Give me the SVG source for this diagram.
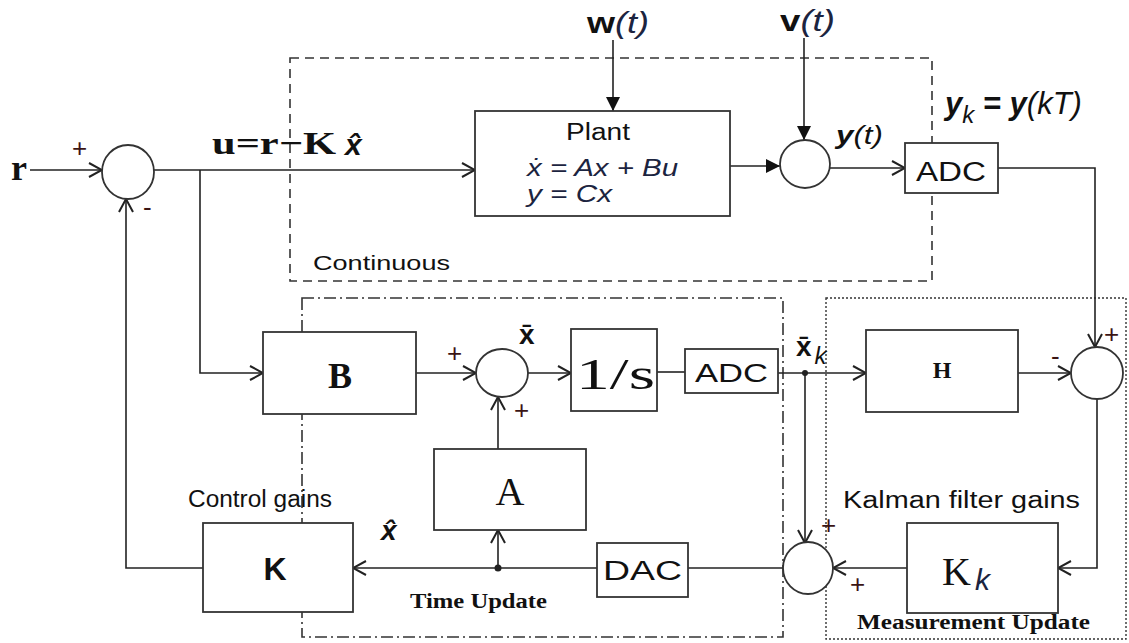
<svg xmlns="http://www.w3.org/2000/svg" width="1129" height="643" viewBox="0 0 1129 643">
<defs>
<marker id="open" markerUnits="userSpaceOnUse" markerWidth="16" markerHeight="16" viewBox="0 0 16 16" refX="15" refY="8" orient="auto">
<path d="M2,1 L15,8 L2,15" fill="none" stroke="#222" stroke-width="2"/>
</marker>
<marker id="fill" markerUnits="userSpaceOnUse" markerWidth="16" markerHeight="16" viewBox="0 0 16 16" refX="15" refY="8" orient="auto">
<path d="M1,1 L15,8 L1,15 Z" fill="#111"/>
</marker>
<style>
.box{fill:#fff;stroke:#333;stroke-width:1.8}
.sum{fill:#fff;stroke:#333;stroke-width:1.8}
.ln{fill:none;stroke:#222;stroke-width:1.6}
.sans{font-family:"Liberation Sans",Arial,sans-serif;fill:#111}
.serif{font-family:"Liberation Serif","Times New Roman",serif;fill:#111}
.it{font-style:italic;fill:#1c2440}
.sign{font-family:"Liberation Sans",Arial,sans-serif;font-size:26px;fill:#3a1414}
</style>
</defs>
<rect width="1129" height="643" fill="#fff"/>

<g id="regions" fill="none">
<rect x="290" y="58" width="642" height="223" stroke="#333" stroke-width="1.6" stroke-dasharray="9,6"/>
<rect x="302" y="298" width="481" height="339" stroke="#333" stroke-width="1.6" stroke-dasharray="12,4,2,4"/>
<rect x="826" y="298" width="300" height="341" stroke="#333" stroke-width="1.4" stroke-dasharray="2,2"/>
<text class="sans" x="313" y="270" font-size="21" textLength="137" lengthAdjust="spacingAndGlyphs">Continuous</text>
<text class="serif" x="410" y="608" font-size="20" font-weight="bold" textLength="137" lengthAdjust="spacingAndGlyphs">Time Update</text>
<text class="serif" x="857" y="629" font-size="20" font-weight="bold" textLength="233" lengthAdjust="spacingAndGlyphs">Measurement Update</text>
</g>

<g id="connectors">
<path class="ln" d="M30,170 H102" marker-end="url(#open)"/>
<path class="ln" d="M154,170 H475" marker-end="url(#open)"/>
<path class="ln" d="M200,170 V373 H263" marker-end="url(#open)"/>
<path class="ln" d="M613,40 V111" marker-end="url(#fill)"/>
<path class="ln" d="M804,38 V140" marker-end="url(#fill)"/>
<path class="ln" d="M730,166 H780" marker-end="url(#fill)"/>
<path class="ln" d="M830,168 H905" marker-end="url(#open)"/>
<path class="ln" d="M998,168 H1095 V347" marker-end="url(#open)"/>
<path class="ln" d="M416,373 H476" marker-end="url(#open)"/>
<path class="ln" d="M528,373 H571" marker-end="url(#open)"/>
<path class="ln" d="M657,372 H685"/>
<path class="ln" d="M778,373 H866" marker-end="url(#open)"/>
<path class="ln" d="M805,373 V543" marker-end="url(#open)"/>
<path class="ln" d="M1018,373 H1071" marker-end="url(#open)"/>
<path class="ln" d="M1097,399 V568 H1058" marker-end="url(#open)"/>
<path class="ln" d="M907,568 H833" marker-end="url(#open)"/>
<path class="ln" d="M783,568 H688"/>
<path class="ln" d="M597,568 H353" marker-end="url(#open)"/>
<path class="ln" d="M498,568 V530" marker-end="url(#open)"/>
<path class="ln" d="M498,449 V397" marker-end="url(#open)"/>
<path class="ln" d="M203,568 H126 V199" marker-end="url(#open)"/>
<circle cx="805" cy="373" r="3" fill="#222"/>
<circle cx="498" cy="568" r="3.5" fill="#222"/>
</g>

<g id="input-r">
<text class="serif" x="11" y="180" font-size="36" font-weight="bold">r</text>
</g>
<g id="u-label">
<text class="serif" x="212" y="154" font-size="32" font-weight="bold" textLength="124" lengthAdjust="spacingAndGlyphs">u=r−K</text>
<text class="sans" x="345" y="155" font-size="30" font-weight="bold" font-style="italic" fill="#1c2440">x&#x302;</text>
</g>

<g id="sum1">
<ellipse class="sum" cx="128" cy="172" rx="26" ry="27"/>
<text class="sign" x="72" y="157">+</text>
<text class="sign" x="143" y="216">-</text>
</g>

<g id="plant">
<rect class="box" x="475" y="111" width="255" height="105"/>
<text class="sans" x="566" y="140" font-size="23" textLength="64" lengthAdjust="spacingAndGlyphs">Plant</text>
<text class="sans it" x="527" y="176" font-size="23" textLength="151" lengthAdjust="spacingAndGlyphs">ẋ = Ax + Bu</text>
<text class="sans it" x="527" y="202" font-size="23" textLength="85" lengthAdjust="spacingAndGlyphs">y = Cx</text>
</g>

<g id="w-input">
<text class="sans" x="587" y="33" font-size="29" font-weight="bold" textLength="62" lengthAdjust="spacingAndGlyphs">w<tspan class="it" font-weight="normal">(t)</tspan></text>
</g>
<g id="v-input">
<text class="sans" x="780" y="31" font-size="29" font-weight="bold" textLength="55" lengthAdjust="spacingAndGlyphs">v<tspan class="it" font-weight="normal">(t)</tspan></text>
</g>

<g id="sum2">
<ellipse class="sum" cx="805" cy="164" rx="25" ry="24"/>
<text class="sans" x="836" y="144" font-size="26" font-weight="bold" font-style="italic" fill="#1c2440" textLength="47" lengthAdjust="spacingAndGlyphs">y<tspan font-weight="normal">(t)</tspan></text>
</g>

<g id="adc1">
<rect class="box" x="905" y="143" width="93" height="50"/>
<text class="sans" x="916" y="181" font-size="27" textLength="70" lengthAdjust="spacingAndGlyphs">ADC</text>
<text class="sans" x="945" y="114" font-size="31" font-weight="bold" font-style="italic" fill="#1c2440">y<tspan font-size="24" font-weight="normal" dy="9">k</tspan><tspan dy="-9" fill="#111"> = </tspan>y<tspan font-weight="normal">(kT)</tspan></text>
</g>

<g id="B">
<rect class="box" x="263" y="332" width="153" height="82"/>
<text class="serif" x="340" y="388" font-size="36" font-weight="bold" text-anchor="middle">B</text>
</g>

<g id="sum4">
<ellipse class="sum" cx="502" cy="373" rx="26" ry="24"/>
<text class="sign" x="447" y="362">+</text>
<text class="sign" x="514" y="419">+</text>
<text class="sans" x="519" y="344" font-size="28" font-weight="bold" fill="#1c2440">x&#x304;</text>
</g>

<g id="integrator">
<rect class="box" x="571" y="329" width="86" height="82"/>
<text class="serif" x="576" y="389" font-size="44" textLength="79" lengthAdjust="spacingAndGlyphs">1/s</text>
</g>

<g id="adc2">
<rect class="box" x="685" y="349" width="93" height="44"/>
<text class="sans" x="695" y="382" font-size="26" textLength="73" lengthAdjust="spacingAndGlyphs">ADC</text>
</g>

<g id="xk-label">
<text class="sans" x="796" y="356" font-size="28" font-weight="bold" fill="#1c2440">x&#x304;<tspan font-size="24" font-weight="normal" font-style="italic" dx="3" dy="8">k</tspan></text>
</g>

<g id="H">
<rect class="box" x="866" y="330" width="152" height="82"/>
<text class="serif" x="942" y="378" font-size="24" font-weight="bold" text-anchor="middle">H</text>
</g>

<g id="sum5">
<ellipse class="sum" cx="1097" cy="373" rx="26" ry="26"/>
<text class="sign" x="1051" y="365">-</text>
<text class="sign" x="1104" y="343">+</text>
</g>

<g id="A">
<rect class="box" x="434" y="449" width="152" height="81"/>
<text class="serif" x="510" y="505" font-size="40" text-anchor="middle">A</text>
</g>

<g id="K">
<rect class="box" x="203" y="523" width="150" height="89"/>
<text class="sans" x="275" y="580" font-size="32" font-weight="bold" text-anchor="middle">K</text>
<text class="sans" x="188" y="507" font-size="23" textLength="144" lengthAdjust="spacingAndGlyphs">Control gains</text>
</g>

<g id="xhat-label">
<text class="sans" x="381" y="540" font-size="28" font-weight="bold" font-style="italic" fill="#1c2440">x&#x302;</text>
</g>

<g id="DAC">
<rect class="box" x="597" y="543" width="91" height="54"/>
<text class="sans" x="603" y="580" font-size="27" textLength="79" lengthAdjust="spacingAndGlyphs">DAC</text>
</g>

<g id="sum6">
<ellipse class="sum" cx="808" cy="568" rx="25" ry="26"/>
<text class="sign" x="821" y="534">+</text>
<text class="sign" x="850" y="593">+</text>
</g>

<g id="Kk">
<rect class="box" x="907" y="523" width="151" height="90"/>
<text class="serif" x="942" y="585" font-size="40">K<tspan class="sans it" font-size="30" dx="4" dy="5" fill="#1c3a8a">k</tspan></text>
<text class="sans" x="843" y="508" font-size="23" textLength="237" lengthAdjust="spacingAndGlyphs">Kalman filter gains</text>
</g>
</svg>
